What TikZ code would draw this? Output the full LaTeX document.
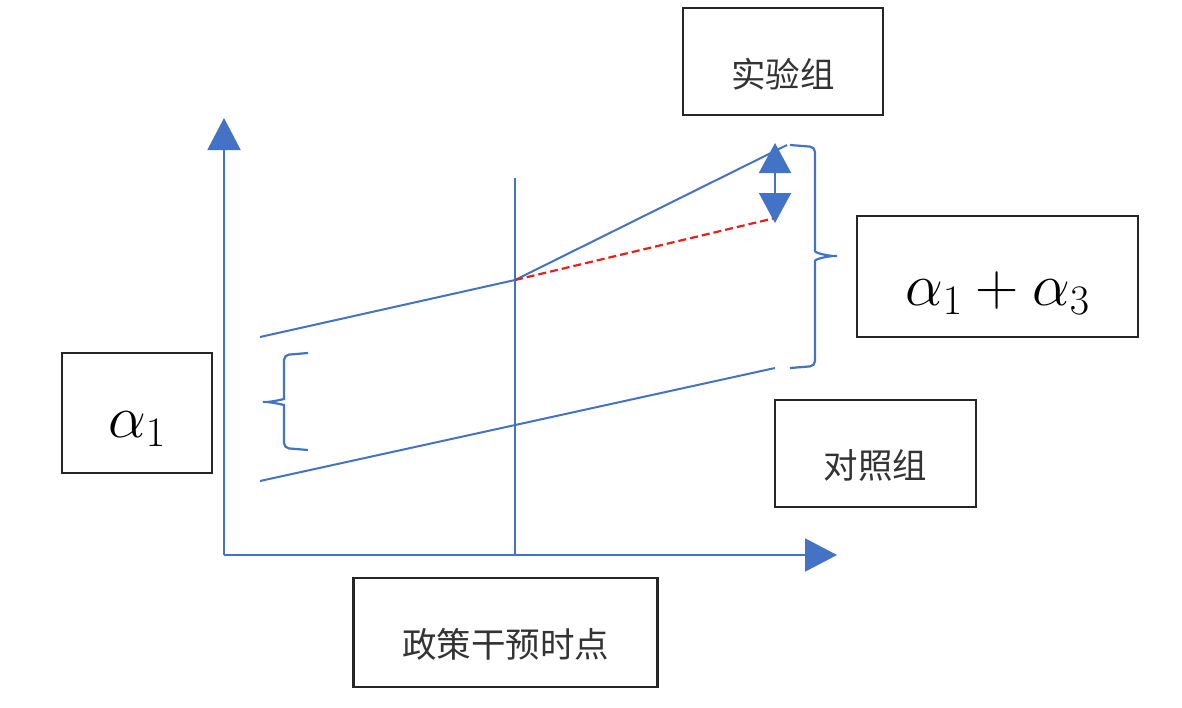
\documentclass[tikz,border=0pt]{standalone}
\usepackage{fix-cm}
\usepackage{fontspec}
\newfontfamily\cjk{Noto Sans CJK SC}
\usetikzlibrary{arrows.meta}
\definecolor{ob}{HTML}{4472C4}
\definecolor{rd}{HTML}{E8201C}
\begin{document}
\begin{tikzpicture}[x=1pt,y=-1pt,
  ln/.style={draw=ob, line width=2pt},
  brc/.style={draw=ob, line width=2.2pt, rounded corners=5pt},
  box/.style={draw=black!85, line width=2.5pt, fill=white},
  cjktxt/.style={font=\cjk\fontsize{34.5}{38}\selectfont, text=black!80},
  mathtxt/.style={font=\fontsize{60}{64}\selectfont, text=black},
  axhead/.style={-{Triangle[length=32pt,width=33pt]}}]
\useasboundingbox (0,0) rectangle (1182,707);
% coordinates
\coordinate (O) at (224,555);
\coordinate (Ytop) at (224,118);
\coordinate (Xend) at (837,555);
\coordinate (Vtop) at (515,178);
\coordinate (Vbot) at (515,555);
\coordinate (T0) at (260,337);
\coordinate (Tm) at (515,280);
\coordinate (T1) at (787,145);
\coordinate (C0) at (260,481);
\coordinate (C1) at (775,368);
\coordinate (Rd) at (775,218);
\coordinate (Aup) at (775,143);
\coordinate (Adn) at (775,223);
% axes
\draw[ln, axhead, fill=ob] (O) -- (Ytop);
\draw[ln, axhead, fill=ob] (O) -- (Xend);
\draw[ln] (Vbot) -- (Vtop);
% trend lines
\draw[ln] (T0) -- (Tm) -- (T1);
\draw[ln] (C0) -- (C1);
\draw[draw=rd, line width=2.2pt, dash pattern=on 8pt off 4pt] (Tm) -- (Rd);
% double arrow
\draw[ln, {Triangle[length=30pt,width=32pt]}-{Triangle[length=30pt,width=32pt]}] (Adn) -- (Aup);
% right brace
\draw[brc] (790,145) -- (815,147) -- (815,246) .. controls (815,253) and (828,256) .. (840,256)
  .. controls (828,256) and (815,259) .. (815,266) -- (815,366) -- (790,368);
% left brace
\draw[brc] (308,353) -- (284,355) -- (284,394) .. controls (284,399) and (272,402) .. (260,402)
  .. controls (272,402) and (284,405) .. (284,410) -- (284,448) -- (308,450);
% boxes
\node[box, minimum width=200pt, minimum height=107pt,
  label={[cjktxt, yshift=-12.5pt]center:实验组}] (exp) at (783,61.5) {};
\node[box, minimum width=201pt, minimum height=107pt,
  label={[cjktxt, yshift=-11.5pt]center:对照组}] (ctl) at (875.5,453.5) {};
\node[box, minimum width=304pt, minimum height=109pt,
  label={[cjktxt, yshift=-11.5pt]center:政策干预时点}] (pol) at (505.5,632.5) {};
\node[box, minimum width=281pt, minimum height=121pt,
  label={[mathtxt, yshift=-17pt]center:$\alpha_1+\alpha_3$}] (a13) at (997.5,276.5) {};
\node[box, minimum width=150pt, minimum height=120pt,
  label={[mathtxt, yshift=-16pt]center:$\alpha_1$}] (a1) at (137,413) {};
\end{tikzpicture}
\end{document}
